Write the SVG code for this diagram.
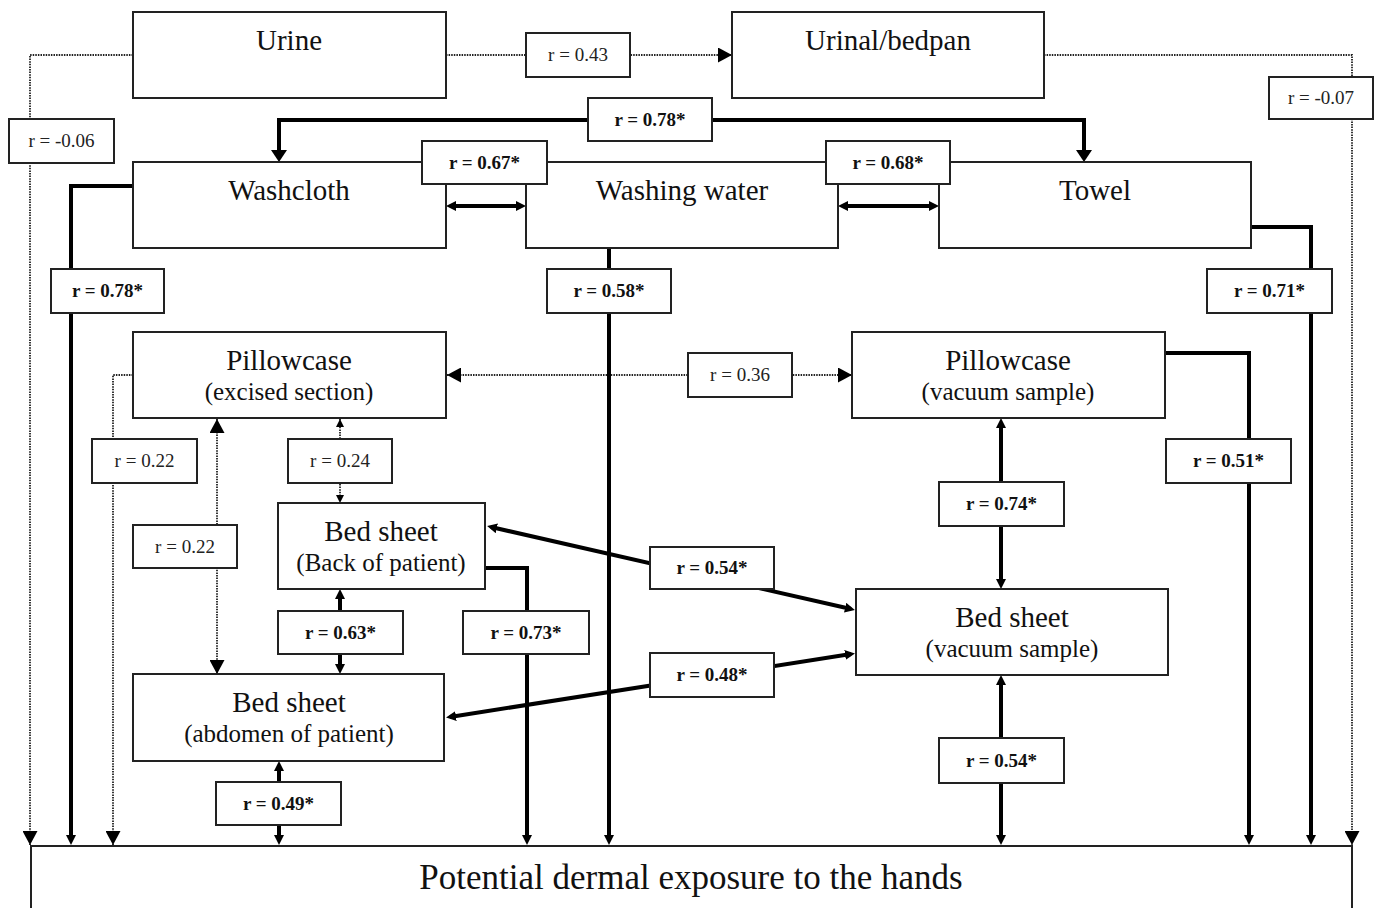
<svg xmlns="http://www.w3.org/2000/svg" width="1378" height="908" viewBox="0 0 1378 908">
<style>
.node{fill:#fff;stroke:#222;stroke-width:2}
.lab{fill:#fff;stroke:#222;stroke-width:2}
.t1{font-family:"Liberation Serif","Times New Roman",serif;font-size:29px;fill:#111;text-anchor:middle}
.t2{font-family:"Liberation Serif","Times New Roman",serif;font-size:25px;fill:#111;text-anchor:middle}
.tx{font-family:"Liberation Serif","Times New Roman",serif;font-size:35px;fill:#111;text-anchor:middle}
.lr{font-family:"Liberation Serif","Times New Roman",serif;font-size:19px;fill:#222;text-anchor:middle}
.lb{font-family:"Liberation Serif","Times New Roman",serif;font-size:19px;font-weight:bold;fill:#111;text-anchor:middle}
.thick{fill:none;stroke:#000;stroke-width:4}
.dot{fill:none;stroke:#222;stroke-width:1.8;stroke-dasharray:1.5 1.1}
</style>
<defs>
<marker id="aBig" markerUnits="userSpaceOnUse" viewBox="0 0 12 16" markerWidth="12" markerHeight="16" refX="8" refY="8" orient="auto-start-reverse"><path d="M0,0 L12,8 L0,16 z" fill="#000"/></marker>
<marker id="aSm" markerUnits="userSpaceOnUse" viewBox="0 0 10 10" markerWidth="10" markerHeight="10" refX="6" refY="5" orient="auto-start-reverse"><path d="M0,0 L10,5 L0,10 z" fill="#000"/></marker>
<marker id="dBig" markerUnits="userSpaceOnUse" viewBox="0 0 14 15" markerWidth="14" markerHeight="15" refX="14" refY="7.5" orient="auto-start-reverse"><path d="M0,0 L14,7.5 L0,15 z" fill="#000"/></marker>
<marker id="dSm" markerUnits="userSpaceOnUse" viewBox="0 0 8 8" markerWidth="8" markerHeight="8" refX="8" refY="4" orient="auto-start-reverse"><path d="M0,0 L8,4 L0,8 z" fill="#000"/></marker>
</defs>

<g id="connectors">
<path class="dot" d="M133,55 H30 V845" marker-end="url(#dBig)"/>
<path class="dot" d="M1044,55 H1352 V845" marker-end="url(#dBig)"/>
<path class="dot" d="M446,55 H732" marker-end="url(#dBig)"/>
<path class="dot" d="M447,375 H852" marker-start="url(#dBig)" marker-end="url(#dBig)"/>
<path class="dot" d="M133,375 H113 V845" marker-end="url(#dBig)"/>
<path class="dot" d="M217,419 V674" marker-start="url(#dBig)" marker-end="url(#dBig)"/>
<path class="dot" d="M340,419 V503" marker-start="url(#dSm)" marker-end="url(#dSm)"/>
<path class="thick" d="M279,158 V120 H1084 V158" marker-start="url(#aBig)" marker-end="url(#aBig)"/>
<path class="thick" d="M450,206 H522" marker-start="url(#aSm)" marker-end="url(#aSm)"/>
<path class="thick" d="M842,206 H935" marker-start="url(#aSm)" marker-end="url(#aSm)"/>
<path class="thick" d="M133,186 H71 V841" marker-end="url(#aSm)"/>
<path class="thick" d="M609,248 V841" marker-end="url(#aSm)"/>
<path class="thick" d="M1251,227 H1311 V841" marker-end="url(#aSm)"/>
<path class="thick" d="M1165,353 H1249 V841" marker-end="url(#aSm)"/>
<path class="thick" d="M486,568 H527 V841" marker-end="url(#aSm)"/>
<path class="thick" d="M340,593 V670" marker-start="url(#aSm)" marker-end="url(#aSm)"/>
<path class="thick" d="M279,765 V841" marker-start="url(#aSm)" marker-end="url(#aSm)"/>
<path class="thick" d="M1001,422 V585" marker-start="url(#aSm)" marker-end="url(#aSm)"/>
<path class="thick" d="M1001,679 V841" marker-start="url(#aSm)" marker-end="url(#aSm)"/>
<path class="thick" d="M491,527 L851,609" marker-start="url(#aSm)" marker-end="url(#aSm)"/>
<path class="thick" d="M450,717 L851,654" marker-start="url(#aSm)" marker-end="url(#aSm)"/>
</g>

<g id="urine"><rect class="node" x="133" y="12" width="313" height="86"/><text class="t1" x="289" y="50">Urine</text></g>
<g id="urinal"><rect class="node" x="732" y="12" width="312" height="86"/><text class="t1" x="888" y="50">Urinal/bedpan</text></g>
<g id="washcloth"><rect class="node" x="133" y="162" width="313" height="86"/><text class="t1" x="289" y="200">Washcloth</text></g>
<g id="washwater"><rect class="node" x="526" y="162" width="312" height="86"/><text class="t1" x="682" y="200">Washing water</text></g>
<g id="towel"><rect class="node" x="939" y="162" width="312" height="86"/><text class="t1" x="1095" y="200">Towel</text></g>
<g id="pillow-excised"><rect class="node" x="133" y="332" width="313" height="86"/><text class="t1" x="289" y="370">Pillowcase</text><text class="t2" x="289" y="400">(excised section)</text></g>
<g id="pillow-vacuum"><rect class="node" x="852" y="332" width="313" height="86"/><text class="t1" x="1008" y="370">Pillowcase</text><text class="t2" x="1008" y="400">(vacuum sample)</text></g>
<g id="bed-back"><rect class="node" x="278" y="503" width="207" height="86"/><text class="t1" x="381" y="541">Bed sheet</text><text class="t2" x="381" y="571">(Back of patient)</text></g>
<g id="bed-vacuum"><rect class="node" x="856" y="589" width="312" height="86"/><text class="t1" x="1012" y="627">Bed sheet</text><text class="t2" x="1012" y="657">(vacuum sample)</text></g>
<g id="bed-abdomen"><rect class="node" x="133" y="674" width="311" height="87"/><text class="t1" x="289" y="712">Bed sheet</text><text class="t2" x="289" y="742">(abdomen of patient)</text></g>
<g id="exposure"><rect class="node" x="31" y="846" width="1321" height="80"/><text class="tx" x="691" y="889">Potential dermal exposure to the hands</text></g>

<g id="labels">
<rect class="lab" x="526" y="33" width="104" height="44"/><text class="lr" x="578" y="61">r = 0.43</text>
<rect class="lab" x="9" y="119" width="105" height="44"/><text class="lr" x="61.5" y="147">r = -0.06</text>
<rect class="lab" x="1269" y="77" width="104" height="42"/><text class="lr" x="1321" y="104">r = -0.07</text>
<rect class="lab" x="588" y="98" width="124" height="43"/><text class="lb" x="650" y="126">r = 0.78*</text>
<rect class="lab" x="422" y="141" width="125" height="43"/><text class="lb" x="484.5" y="168.5">r = 0.67*</text>
<rect class="lab" x="826" y="141" width="124" height="43"/><text class="lb" x="888" y="168.5">r = 0.68*</text>
<rect class="lab" x="51" y="269" width="113" height="44"/><text class="lb" x="107.5" y="297">r = 0.78*</text>
<rect class="lab" x="547" y="269" width="124" height="44"/><text class="lb" x="609" y="297">r = 0.58*</text>
<rect class="lab" x="1207" y="269" width="125" height="44"/><text class="lb" x="1269.5" y="297">r = 0.71*</text>
<rect class="lab" x="688" y="353" width="104" height="44"/><text class="lr" x="740" y="381">r = 0.36</text>
<rect class="lab" x="92" y="439" width="105" height="44"/><text class="lr" x="144.5" y="467">r = 0.22</text>
<rect class="lab" x="288" y="439" width="104" height="44"/><text class="lr" x="340" y="467">r = 0.24</text>
<rect class="lab" x="1166" y="439" width="125" height="44"/><text class="lb" x="1228.5" y="467">r = 0.51*</text>
<rect class="lab" x="939" y="482" width="125" height="44"/><text class="lb" x="1001.5" y="510">r = 0.74*</text>
<rect class="lab" x="133" y="525" width="104" height="43"/><text class="lr" x="185" y="553">r = 0.22</text>
<rect class="lab" x="650" y="547" width="124" height="42"/><text class="lb" x="712" y="574">r = 0.54*</text>
<rect class="lab" x="278" y="611" width="125" height="43"/><text class="lb" x="340.5" y="639">r = 0.63*</text>
<rect class="lab" x="463" y="611" width="126" height="43"/><text class="lb" x="526" y="639">r = 0.73*</text>
<rect class="lab" x="650" y="653" width="124" height="44"/><text class="lb" x="712" y="681">r = 0.48*</text>
<rect class="lab" x="939" y="738" width="125" height="45"/><text class="lb" x="1001.5" y="766.5">r = 0.54*</text>
<rect class="lab" x="216" y="782" width="125" height="43"/><text class="lb" x="278.5" y="809.5">r = 0.49*</text>
</g>
</svg>
